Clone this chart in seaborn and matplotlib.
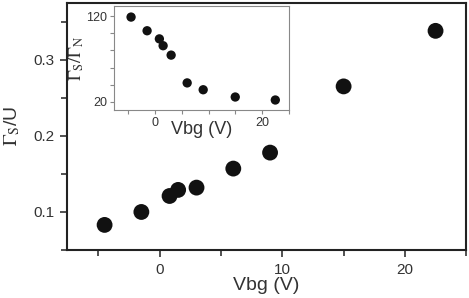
import matplotlib as mpl
import matplotlib.pyplot as plt
from matplotlib.ticker import MultipleLocator
import numpy as np
import pandas as pd
import seaborn as sns

# gate voltage (same points in main plot and inset)
vbg = [-4.5, -1.5, 0.8, 1.5, 3.0, 6.0, 9.0, 15.0, 22.5]
gamma_s_over_u = [0.083, 0.100, 0.121, 0.129, 0.132, 0.157, 0.178, 0.265, 0.338]
gamma_s_over_gamma_n = [119, 103, 93.5, 85.5, 74.5, 42, 34, 25.5, 22]

df = pd.DataFrame({'Vbg': vbg, 'GU': gamma_s_over_u, 'GN': gamma_s_over_gamma_n})

sns.set_style('ticks')
plt.rcParams['font.family'] = ['Liberation Sans', 'DejaVu Sans']
plt.rcParams['mathtext.fontset'] = 'stix'

fig = plt.figure(figsize=(4.69, 2.98), dpi=100)
ax = fig.add_axes([0.142, 0.161, 0.852, 0.830])

sns.scatterplot(data=df, x='Vbg', y='GU', ax=ax, s=130, color='#111111',
                edgecolor='none', legend=False)
ax.set_xlim(-7.6, 25)
ax.set_ylim(0.05, 0.375)
ax.xaxis.set_minor_locator(MultipleLocator(5))
ax.yaxis.set_minor_locator(MultipleLocator(0.05))
ax.set_xticks([0, 10, 20])
ax.set_yticks([0.1, 0.2, 0.3])
ax.tick_params(which='major', length=5, width=1.2, labelsize=11, color='#333333',
               labelcolor='#333333', pad=4)
ax.tick_params(which='minor', length=4, width=1.2, color='#333333')
ax.tick_params(which='both', top=False, right=False)
for sp in ax.spines.values():
    sp.set_visible(True)
    sp.set_linewidth(1.5)
    sp.set_color('#222222')
ax.set_xlabel('Vbg (V)', fontsize=14, color='#333333', labelpad=0)
ax.set_ylabel(r'$\Gamma_{\mathrm{S}}$/U', fontsize=14, color='#333333', labelpad=8)

# inset
axi = fig.add_axes([0.243, 0.630, 0.3725, 0.350])
sns.scatterplot(data=df, x='Vbg', y='GN', ax=axi, s=45, color='#111111',
                edgecolor='none', legend=False)
axi.set_xlim(-7.7, 25)
axi.set_ylim(10, 132)
axi.set_xticks([0, 10, 20])
axi.set_xticklabels(['0', '', '20'])
axi.xaxis.set_minor_locator(MultipleLocator(5))
axi.set_yticks([20, 120])
axi.yaxis.set_minor_locator(MultipleLocator(20))
axi.tick_params(which='both', length=3, width=0.8, color='#888888',
                labelsize=9, labelcolor='#333333', pad=2)
for sp in axi.spines.values():
    sp.set_linewidth(0.8)
    sp.set_color('#888888')
axi.set_xlabel('Vbg (V)', fontsize=13, color='#333333', labelpad=-6)
axi.set_ylabel(r'$\Gamma_{\mathrm{S}}/\Gamma_{\mathrm{N}}$', fontsize=13,
               color='#333333', labelpad=0)

fig.savefig('out.png', dpi=100)
